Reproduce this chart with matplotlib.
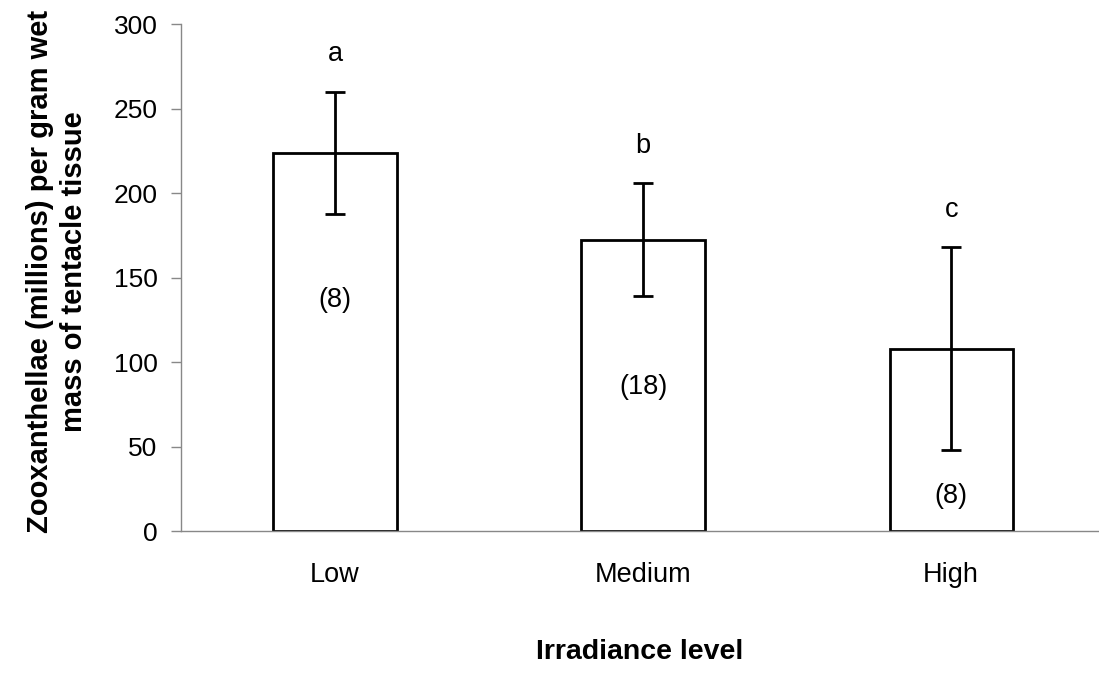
import matplotlib
matplotlib.use("Agg")
import matplotlib.pyplot as plt
import numpy as np

# data
levels = ["Low", "Medium", "High"]
zoox_mean = [224, 172.5, 108]
zoox_err = [36, 33.5, 60]
group_letters = ["a", "b", "c"]
sample_sizes = [8, 18, 8]

plt.rcParams["font.family"] = ["Liberation Sans", "DejaVu Sans"]

fig = plt.figure(figsize=(10.99, 6.75), dpi=100)
ax = fig.add_axes([0.1647, 0.2129, 0.8353, 0.7511])

x = np.arange(len(levels))
ax.bar(x, zoox_mean, width=0.4, color="white", edgecolor="black", linewidth=2, zorder=2)
ax.errorbar(x, zoox_mean, yerr=zoox_err, fmt="none", ecolor="black",
            elinewidth=2, capsize=7.5, capthick=2, zorder=3)

# significance letters above the error bars, sample sizes inside the bars
for xi, m, e, letter, n in zip(x, zoox_mean, zoox_err, group_letters, sample_sizes):
    ax.text(xi, m + e + 18, letter, ha="center", va="baseline", fontsize=19.5)
    ax.text(xi, m - 91, "({})".format(n), ha="center", va="baseline", fontsize=19.5)

ax.set_xlim(-0.5, 2.48)
ax.set_ylim(0, 300)
ax.set_yticks(range(0, 301, 50))
ax.set_xticks(x)
ax.set_xticklabels(levels)

for side in ["top", "right"]:
    ax.spines[side].set_visible(False)
for side in ["left", "bottom"]:
    ax.spines[side].set_color("#888888")
    ax.spines[side].set_linewidth(1)

ax.tick_params(axis="y", length=7, width=1, color="#888888", pad=10, labelsize=19)
ax.tick_params(axis="x", length=0, pad=22, labelsize=19.5)

ax.set_xlabel("Irradiance level", fontsize=20.5, fontweight="bold", labelpad=37)
ax.set_ylabel("Zooxanthellae (millions) per gram wet\nmass of tentacle tissue",
              fontsize=21, fontweight="bold", linespacing=1.3)
ax.yaxis.set_label_coords(-0.101, 0.513)

fig.savefig("out.png", dpi=100)
